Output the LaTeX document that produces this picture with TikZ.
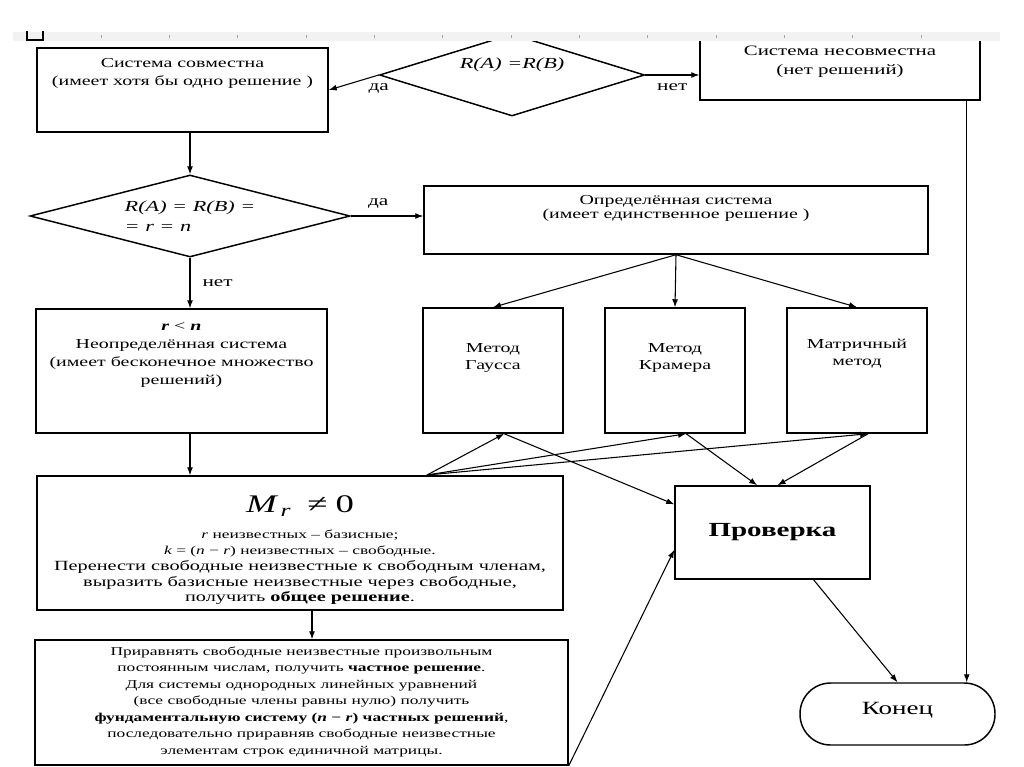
\documentclass[tikz,border=0pt]{standalone}
\usepackage{fontspec}
\setmainfont{Liberation Serif}[FakeStretch=1.45]
\usetikzlibrary{arrows.meta,shapes}
\tikzstyle{block}=[draw,line width=1.1pt,inner sep=0pt,font=\fontsize{10.3}{13.3}\selectfont]
\tikzstyle{cond}=[diamond,draw,line width=1.1pt,inner sep=0pt,font=\fontsize{11.5}{15}\selectfont\itshape]
\tikzstyle{term}=[draw,line width=1.1pt,rounded corners=23pt,minimum width=146.25pt,minimum height=46.5pt,font=\fontsize{14}{16}\selectfont]
\tikzstyle{edge}=[draw,line width=0.8pt,-{Latex[length=6pt,width=4.5pt]}]
\tikzstyle{answer}=[inner sep=1pt,font=\fontsize{11}{13}\selectfont]
\newcommand{\inbox}[4]{\parbox[c][#2][t]{#1}{\centering\vspace*{#3}#4}}

\begin{document}
\begin{tikzpicture}[x=0.75pt,y=-0.75pt]
    \useasboundingbox (0,0) rectangle (1024,767);
    % Conditions on the ranks
    \node[cond,shape aspect=3.2,minimum width=198.75pt,minimum height=61.5pt,text depth=18pt] (rang1) at (512,75) {R(A) =R(B)};
    \node[cond,shape aspect=3.9,minimum width=240pt,minimum height=61.5pt,align=left] (rang2) at (190,216) {R(A) = R(B) =\\= r = n};
    % Boxes
    \node[block] (sovm) at (182.5,90) {\inbox{218.25pt}{63pt}{8pt}{Система совместна\\(имеет хотя бы одно решение )}};
    \node[block,font=\fontsize{10.8}{14.25}\selectfont] (nesovm) at (840,67) {\inbox{210pt}{49.5pt}{9pt}{Система несовместна\\(нет решений)}};
    \node[block,font=\fontsize{10.3}{11}\selectfont] (opr) at (676,220) {\inbox{378pt}{51pt}{6.75pt}{Определённая система\\(имеет единственное решение )}};
    \node[block] (neopr) at (181.5,371) {\inbox{218.25pt}{93pt}{10.5pt}{{\bfseries\itshape r} < {\bfseries\itshape n}\\Неопределённая система\\(имеет бесконечное множество\\решений)}};
    \foreach \pos/\name/\vsp/\txt in {{(493,370.5)/gauss/27pt/{Метод\\Гаусса}}, {(675,370.5)/kramer/27pt/{Метод\\Крамера}}, {(857,370.5)/matr/23pt/{Матричный\\метод}}}
        \node[block,font=\fontsize{10.3}{12.75}\selectfont] (\name) at \pos {\inbox{105pt}{93.75pt}{\vsp}{\txt}};
    \node[block] (obsch) at (300,543) {\inbox{394.5pt}{100.5pt}{15pt}{{\fontsize{19}{22}\selectfont\itshape M\hspace{3pt}\textsubscript{r}\upshape\hspace{12pt}≠\hspace{6pt}0\par}\vspace{7pt}{\fontsize{9}{12}\selectfont\itshape r\upshape\ неизвестных – базисные;\\\itshape k\upshape\ = (\itshape n\upshape\ − \itshape r\upshape) неизвестных – свободные.\par}\vspace{1pt}{\fontsize{10.5}{11.6}\selectfont Перенести свободные неизвестные к свободным членам,\\выразить базисные неизвестные через свободные,\\получить \textbf{общее решение}.\par}}};
    \node[block,font=\fontsize{9}{12.4}\selectfont] (chast) at (301.5,702.5) {\inbox{399.75pt}{93.75pt}{5pt}{Приравнять свободные неизвестные произвольным\\постоянным числам, получить \textbf{частное решение}.\\Для системы однородных линейных уравнений\\(все свободные члены равны нулю) получить\\\textbf{фундаментальную систему (\textit{n} − \textit{r}) частных решений},\\последовательно приравняв свободные неизвестные\\элементам строк единичной матрицы.}};
    \node[block,minimum width=146.25pt,minimum height=69.75pt,font=\fontsize{15}{18}\selectfont\bfseries] (prov) at (772.5,532.5) {Проверка};
    \node[term,text depth=9pt] (konec) at (897.5,714) {Конец};
    \coordinate (ot) at (427,475);
    % Connect the boxes
    \draw[edge] (rang1.west) -- node[answer,at start,below=5pt] (da1) {да} (sovm.east);
    \draw[edge] (rang1.east) -- node[answer,midway,below=5pt] (net1) {нет} (rang1.east -| nesovm.west);
    \draw[edge] (rang2.north |- sovm.south) -- (rang2.north);
    \draw[edge] (rang2.east) -- node[answer,pos=0.38,above=4pt] (da2) {да} (rang2.east -| opr.west);
    \draw[edge] (rang2.south) -- node[answer,midway,right=8pt] (net2) {нет} (rang2.south |- neopr.north);
    \draw[edge] (rang2.south |- neopr.south) -- (rang2.south |- obsch.north);
    \draw[edge] ([xshift=9pt]obsch.south) -- ([xshift=9pt]obsch.south |- chast.north);
    \foreach \dest in {gauss, kramer, matr}
        \draw[edge] (opr.south) -- (\dest.north);
    \foreach \dest in {gauss, kramer, matr}
        \draw[edge] (ot) -- (\dest.-80);
    \foreach \source/\dest in {gauss.-80/prov.164, kramer.-80/prov.108, matr.-80/prov.84, chast.south east/prov.190, prov.-49/konec.north}
        \path[edge] (\source) -- (\dest);
    \draw[edge] ([xshift=-10.5pt]nesovm.south east) -- ([xshift=-10.5pt]nesovm.south east |- konec.north);
    % Ruler of the page
    \fill[gray!10] (13,32) rectangle (1000,41);
    \foreach \i in {0,...,12}
        \draw[gray!70] (101+68.33*\i,35) -- ++(0,3);
    \draw[line width=0.9pt] (27,31) -- (27,40) -- (43,40) -- (43,31);
\end{tikzpicture}
\end{document}
